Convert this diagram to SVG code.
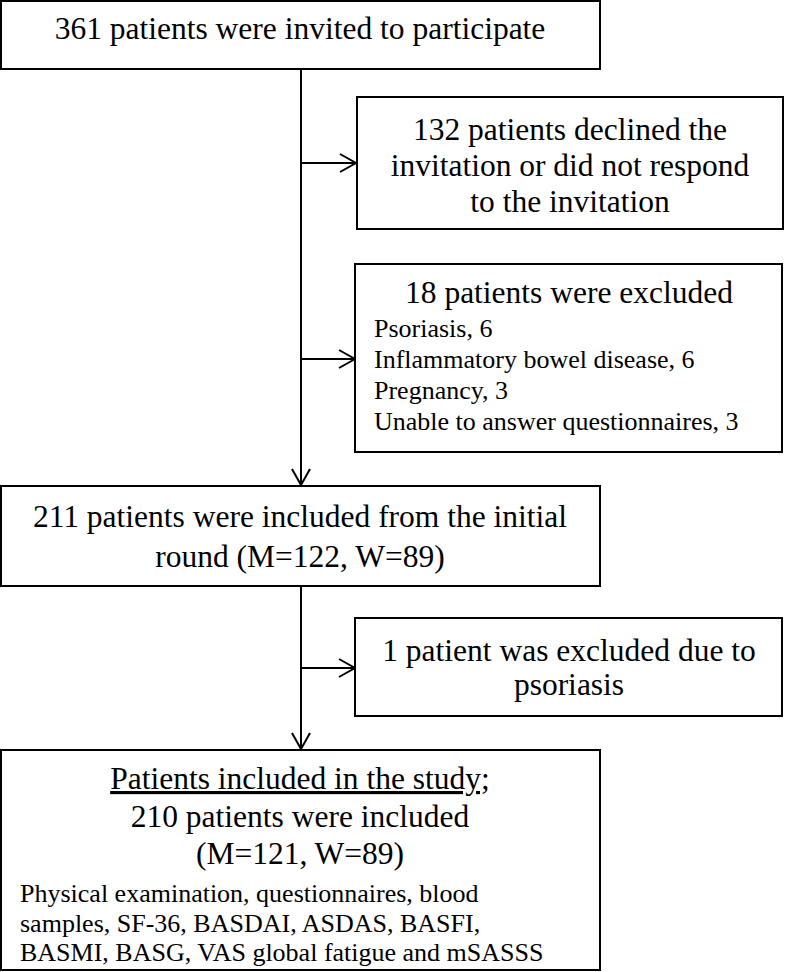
<svg xmlns="http://www.w3.org/2000/svg" width="787" height="972" viewBox="0 0 787 972">
<style>
.box{fill:#fff;stroke:#000;stroke-width:2}
.t{font-family:"Liberation Serif","Times New Roman",serif;font-size:31.5px;fill:#000;text-anchor:middle}
.s{font-family:"Liberation Serif","Times New Roman",serif;font-size:26px;fill:#000}
.c{stroke:#000;stroke-width:2;fill:none}
</style>
<defs>
<marker id="ah" viewBox="0 0 20 20" refX="18" refY="10" markerWidth="20" markerHeight="20" markerUnits="userSpaceOnUse" orient="auto">
<path d="M2,1 L18,10 L2,19" fill="none" stroke="#000" stroke-width="2"/>
</marker>
</defs>
<rect width="787" height="972" fill="#fff"/>
<g id="connectors">
<line class="c" x1="301" y1="69" x2="301" y2="485" marker-end="url(#ah)"/>
<line class="c" x1="301" y1="163" x2="356" y2="163" marker-end="url(#ah)"/>
<line class="c" x1="301" y1="359" x2="355" y2="359" marker-end="url(#ah)"/>
<line class="c" x1="301" y1="586" x2="301" y2="749" marker-end="url(#ah)"/>
<line class="c" x1="301" y1="668" x2="355" y2="668" marker-end="url(#ah)"/>
</g>
<g id="n1">
<rect class="box" x="1" y="1" width="599" height="68"/>
<text class="t" x="300" y="39">361 patients were invited to participate</text>
</g>
<g id="n2">
<rect class="box" x="357" y="97" width="426" height="132"/>
<text class="t" x="570" y="140">132 patients declined the</text>
<text class="t" x="570" y="176">invitation or did not respond</text>
<text class="t" x="570" y="212">to the invitation</text>
</g>
<g id="n3">
<rect class="box" x="355" y="264" width="427" height="188"/>
<text class="t" x="569" y="303">18 patients were excluded</text>
<text class="s" x="374" y="337">Psoriasis, 6</text>
<text class="s" x="374" y="368">Inflammatory bowel disease, 6</text>
<text class="s" x="374" y="399">Pregnancy, 3</text>
<text class="s" x="374" y="430">Unable to answer questionnaires, 3</text>
</g>
<g id="n4">
<rect class="box" x="1" y="486" width="599" height="100"/>
<text class="t" x="300" y="527">211 patients were included from the initial</text>
<text class="t" x="300" y="567">round (M=122, W=89)</text>
</g>
<g id="n5">
<rect class="box" x="355" y="618" width="427" height="98"/>
<text class="t" x="569" y="661">1 patient was excluded due to</text>
<text class="t" x="569" y="695">psoriasis</text>
</g>
<g id="n6">
<rect class="box" x="1" y="750" width="599" height="220"/>
<text class="t" x="300" y="789" text-decoration="underline">Patients included in the study;</text>
<text class="t" x="300" y="827">210 patients were included</text>
<text class="t" x="300" y="864">(M=121, W=89)</text>
<text class="s" x="20" y="902">Physical examination, questionnaires, blood</text>
<text class="s" x="20" y="932">samples, SF-36, BASDAI, ASDAS, BASFI,</text>
<text class="s" x="20" y="961">BASMI, BASG, VAS global fatigue and mSASSS</text>
</g>
</svg>
